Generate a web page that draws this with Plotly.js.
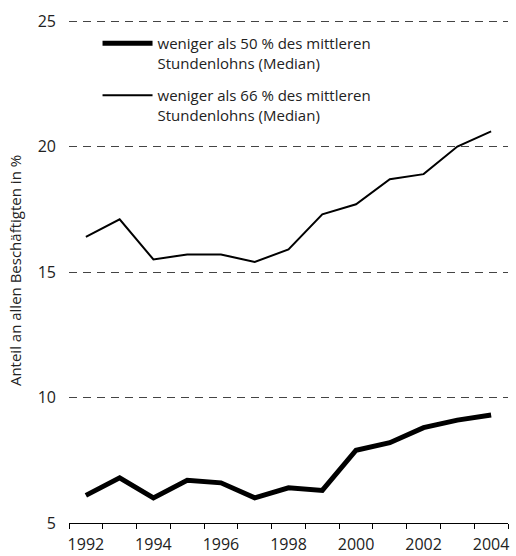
<!DOCTYPE html>
<html>
<head>
<meta charset="utf-8">
<script src="https://cdn.plot.ly/plotly-3.0.1.min.js"></script>
<style>html,body{margin:0;padding:0;background:#fff;}#chart{width:516px;height:556px;}</style>
</head>
<body>
<div id="chart"></div>
<script>
const years = [1992,1993,1994,1995,1996,1997,1998,1999,2000,2001,2002,2003,2004];
const below50 = [6.1,6.8,6.0,6.7,6.6,6.0,6.4,6.3,7.9,8.2,8.8,9.1,9.3];
const below66 = [16.4,17.1,15.5,15.7,15.7,15.4,15.9,17.3,17.7,18.7,18.9,20.0,20.6];
const name50 = 'weniger als 50 % des mittleren<br>Stundenlohns (Median)';
const name66 = 'weniger als 66 % des mittleren<br>Stundenlohns (Median)';
const yTitle = 'Anteil an allen Beschäftigten in %';

const fam = 'Open Sans, Lato, sans-serif';
const txtColor = '#222';
const xRange = [years[0] - 0.5, years[years.length - 1] + 0.5];
const boundaries = years.map(y => y - 0.5).concat([years[years.length - 1] + 0.5]);

const traces = [
  {x: years, y: below50, type: 'scatter', mode: 'lines', name: name50, legendgroup: 'a',
   line: {color: '#000', width: 5}, xaxis: 'x', yaxis: 'y'},
  {x: years, y: below66, type: 'scatter', mode: 'lines', name: name66, legendgroup: 'b',
   line: {color: '#000', width: 2}, xaxis: 'x2', yaxis: 'y'}
];

const layout = {
  width: 516, height: 556,
  margin: {l: 69, r: 8, t: 18, b: 33},
  paper_bgcolor: '#fff', plot_bgcolor: '#fff',
  font: {family: fam, size: 15, color: txtColor},
  showlegend: true,
  legend: {x: 0.065, y: 0.982, xanchor: 'left', yanchor: 'top', bgcolor: 'rgba(0,0,0,0)',
           traceorder: 'grouped', tracegroupgap: 10, itemwidth: 50, valign: 'top',
           font: {family: fam, size: 15, color: txtColor}},
  xaxis: {
    type: 'linear', range: xRange, fixedrange: true,
    tickmode: 'array', tickvals: boundaries, ticktext: boundaries.map(() => ''),
    ticks: 'outside', ticklen: 5, tickcolor: '#000', tickwidth: 1,
    showgrid: false, zeroline: false,
    showline: true, linecolor: '#000', linewidth: 1
  },
  xaxis2: {
    type: 'linear', range: xRange, fixedrange: true, overlaying: 'x', side: 'bottom',
    tickmode: 'linear', tick0: years[0], dtick: 2, ticks: '',
    showgrid: false, zeroline: false, showline: false,
    ticklabelstandoff: 10,
    tickfont: {family: fam, size: 16, color: txtColor}
  },
  yaxis: {
    range: [5, 25.12], fixedrange: true,
    tickmode: 'linear', tick0: 5, dtick: 5,
    showline: false, zeroline: false, ticks: '',
    showgrid: true, gridcolor: '#444', gridwidth: 1, griddash: '8px,6px',
    ticklabelstandoff: 12,
    tickfont: {family: fam, size: 16, color: txtColor},
    title: {text: yTitle, standoff: 12, font: {family: fam, size: 15, color: txtColor}}
  }
};

Plotly.newPlot('chart', traces, layout, {displayModeBar: false, staticPlot: true});
</script>
</body>
</html>
